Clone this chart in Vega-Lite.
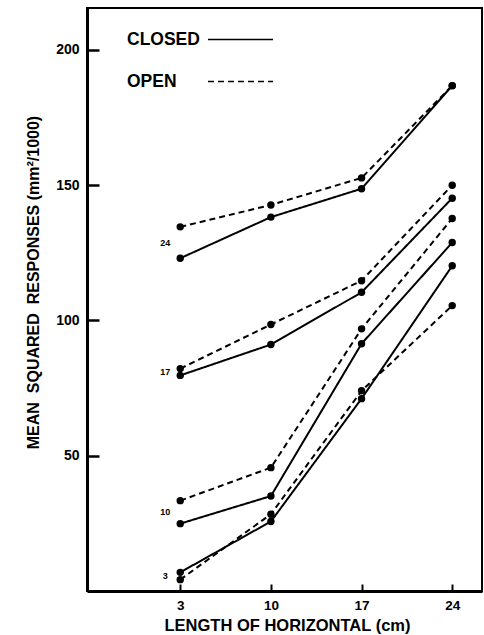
{
  "$schema": "https://vega.github.io/schema/vega-lite/v6.json",
  "width": 395,
  "height": 583,
  "autosize": {"type": "none"},
  "padding": {"left": 87, "top": 8, "right": 2, "bottom": 44},
  "background": "white",
  "config": {
    "font": "Liberation Sans",
    "view": {"stroke": "black", "strokeWidth": 2},
    "axis": {"grid": false}
  },
  "data": {
    "values": [
      {"vertical": 24, "condition": "CLOSED", "horizontal": 3, "msr": 123.0},
      {"vertical": 24, "condition": "CLOSED", "horizontal": 10, "msr": 138.2},
      {"vertical": 24, "condition": "CLOSED", "horizontal": 17, "msr": 148.7},
      {"vertical": 24, "condition": "CLOSED", "horizontal": 24, "msr": 186.8},
      {"vertical": 24, "condition": "OPEN", "horizontal": 3, "msr": 134.6},
      {"vertical": 24, "condition": "OPEN", "horizontal": 10, "msr": 142.7},
      {"vertical": 24, "condition": "OPEN", "horizontal": 17, "msr": 152.7},
      {"vertical": 24, "condition": "OPEN", "horizontal": 24, "msr": 186.8},
      {"vertical": 17, "condition": "CLOSED", "horizontal": 3, "msr": 79.7},
      {"vertical": 17, "condition": "CLOSED", "horizontal": 10, "msr": 91.1},
      {"vertical": 17, "condition": "CLOSED", "horizontal": 17, "msr": 110.4},
      {"vertical": 17, "condition": "CLOSED", "horizontal": 24, "msr": 145.2},
      {"vertical": 17, "condition": "OPEN", "horizontal": 3, "msr": 82.2},
      {"vertical": 17, "condition": "OPEN", "horizontal": 10, "msr": 98.5},
      {"vertical": 17, "condition": "OPEN", "horizontal": 17, "msr": 114.7},
      {"vertical": 17, "condition": "OPEN", "horizontal": 24, "msr": 150.0},
      {"vertical": 10, "condition": "CLOSED", "horizontal": 3, "msr": 24.9},
      {"vertical": 10, "condition": "CLOSED", "horizontal": 10, "msr": 35.1},
      {"vertical": 10, "condition": "CLOSED", "horizontal": 17, "msr": 91.4},
      {"vertical": 10, "condition": "CLOSED", "horizontal": 24, "msr": 128.8},
      {"vertical": 10, "condition": "OPEN", "horizontal": 3, "msr": 33.4},
      {"vertical": 10, "condition": "OPEN", "horizontal": 10, "msr": 45.6},
      {"vertical": 10, "condition": "OPEN", "horizontal": 17, "msr": 96.9},
      {"vertical": 10, "condition": "OPEN", "horizontal": 24, "msr": 137.7},
      {"vertical": 3, "condition": "CLOSED", "horizontal": 3, "msr": 6.9},
      {"vertical": 3, "condition": "CLOSED", "horizontal": 10, "msr": 25.7},
      {"vertical": 3, "condition": "CLOSED", "horizontal": 17, "msr": 71.1},
      {"vertical": 3, "condition": "CLOSED", "horizontal": 24, "msr": 120.2},
      {"vertical": 3, "condition": "OPEN", "horizontal": 3, "msr": 4.2},
      {"vertical": 3, "condition": "OPEN", "horizontal": 10, "msr": 28.4},
      {"vertical": 3, "condition": "OPEN", "horizontal": 17, "msr": 74.0},
      {"vertical": 3, "condition": "OPEN", "horizontal": 24, "msr": 105.5}
    ]
  },
  "encoding": {
    "x": {
      "field": "horizontal",
      "type": "quantitative",
      "scale": {"domain": [-4.2, 26.3], "nice": false, "zero": false},
      "axis": {
        "values": [3, 10, 17, 24],
        "title": "LENGTH OF HORIZONTAL (cm)",
        "titleFont": "Liberation Sans",
        "titleFontSize": 16.5,
        "titleFontWeight": "bold",
        "titleColor": "black",
        "titleX": 200,
        "titleY": 34,
        "titleBaseline": "middle",
        "titleAlign": "center",
        "labelFontSize": 13.5,
        "labelFontWeight": "bold",
        "labelColor": "black",
        "labelPadding": 14,
        "domainColor": "black",
        "domainWidth": 3,
        "ticks": true,
        "tickColor": "black",
        "tickWidth": 2,
        "tickSize": -7
      }
    },
    "y": {
      "field": "msr",
      "type": "quantitative",
      "scale": {"domain": [0, 215.5], "nice": false},
      "axis": {
        "values": [50, 100, 150, 200],
        "title": "MEAN\u00a0 SQUARED\u00a0 RESPONSES (mm²/1000)",
        "titleFont": "Liberation Sans",
        "titleFontSize": 16,
        "titleFontWeight": "bold",
        "titleColor": "black",
        "titleX": -54,
        "titleY": 274,
        "titleBaseline": "middle",
        "titleAlign": "center",
        "titleAngle": -90,
        "labelFontSize": 14,
        "labelFontWeight": "bold",
        "labelColor": "black",
        "labelPadding": 20,
        "domainColor": "black",
        "domainWidth": 3,
        "ticks": true,
        "tickColor": "black",
        "tickWidth": 2.5,
        "tickSize": -12
      }
    }
  },
  "layer": [
    {
      "mark": {"type": "line", "strokeWidth": 2, "color": "black"},
      "encoding": {
        "detail": {"field": "vertical", "type": "nominal"},
        "strokeDash": {
          "field": "condition",
          "type": "nominal",
          "scale": {"domain": ["CLOSED", "OPEN"], "range": [[1, 0], [6, 4]]},
          "legend": {
            "title": null,
            "orient": "none",
            "legendX": 120,
            "legendY": -2,
            "symbolType": "stroke",
            "symbolSize": 4225,
            "symbolStrokeWidth": 1.5,
            "symbolStrokeColor": "black",
            "labelFont": "Liberation Sans",
            "labelFontSize": 17.5,
            "labelFontWeight": "bold",
            "labelColor": "black",
            "labelAlign": "left",
            "labelOffset": -147,
            "rowPadding": -16,
            "padding": 0
          }
        }
      }
    },
    {
      "mark": {"type": "point", "filled": true, "size": 55, "color": "black", "opacity": 1}
    },
    {
      "transform": [
        {"filter": "datum.horizontal == 3"},
        {"aggregate": [{"op": "mean", "field": "msr", "as": "msr"}], "groupby": ["vertical", "horizontal"]}
      ],
      "mark": {"type": "text", "dx": -15, "fontSize": 9, "fontWeight": "bold", "color": "black", "align": "center", "baseline": "middle"},
      "encoding": {
        "text": {"field": "vertical", "type": "nominal"}
      }
    }
  ]
}
